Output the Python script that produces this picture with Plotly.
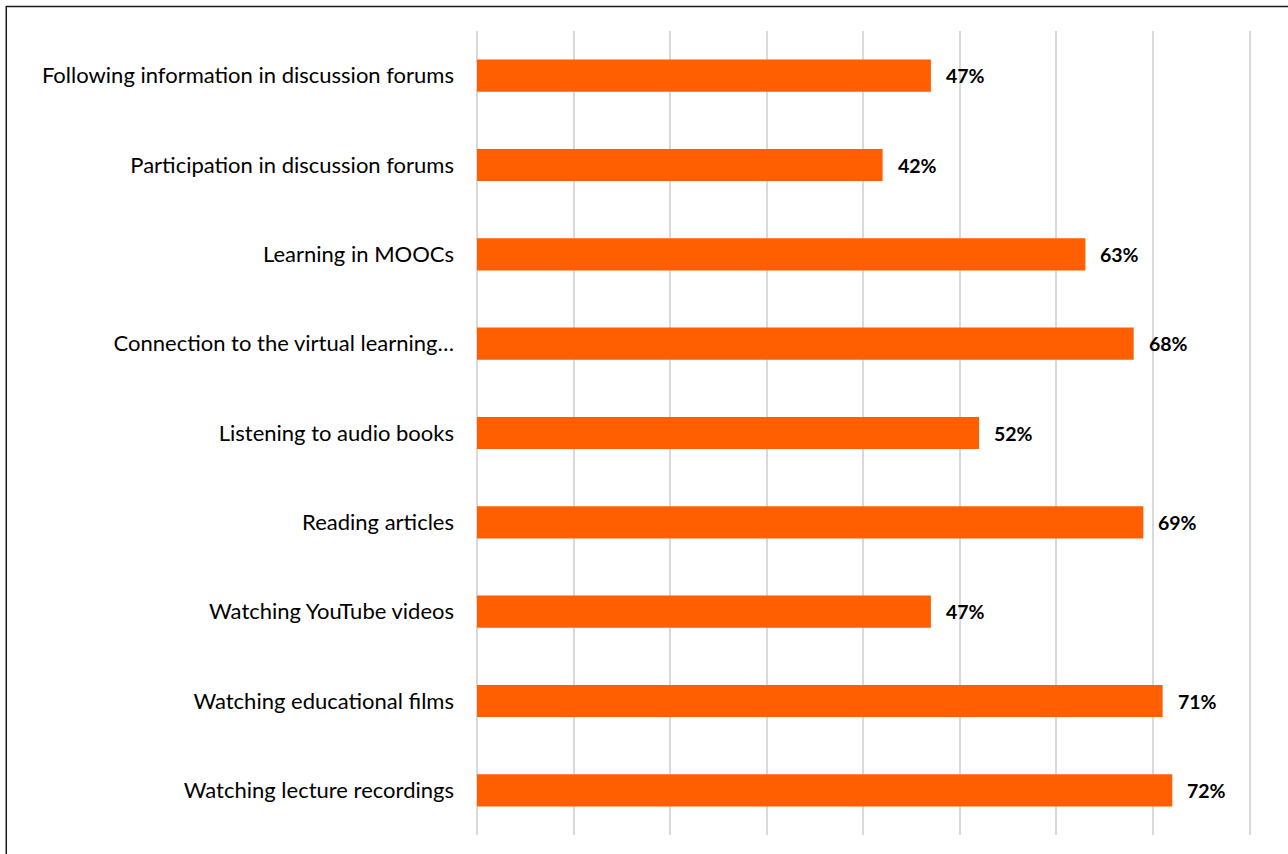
import plotly.graph_objects as go

# Share of respondents using each online learning activity (%)
categories = [
    "Following information in discussion forums",
    "Participation in discussion forums",
    "Learning in MOOCs",
    "Connection to the virtual learning…",
    "Listening to audio books",
    "Reading articles",
    "Watching YouTube videos",
    "Watching educational films",
    "Watching lecture recordings",
]
values = [47, 42, 63, 68, 52, 69, 47, 71, 72]
grid_ticks = [0, 10, 20, 30, 40, 50, 60, 70, 80]

W, H = 1288, 854
X_MAX = 80.15          # a hair past 80 so the last gridline is drawn
ML, MT, MB = 477, 31, 19
unit = 773 / 80        # pixels per percentage point
plot_w = unit * X_MAX
MR = W - ML - plot_w
plot_h = H - MT - MB

fig = go.Figure()
fig.add_trace(go.Bar(
    x=values,
    y=categories,
    orientation="h",
    marker=dict(color="#FF5F00", line=dict(width=0)),
    hoverinfo="skip",
))

# Value labels to the right of each bar
for cat, v in zip(categories, values):
    fig.add_annotation(
        x=v, y=cat, xref="x", yref="y",
        text=f"<b>{v}%</b>",
        showarrow=False, xanchor="left", xshift=13,
        font=dict(family="Lato, Arial, sans-serif", size=19.5, color="#000000"),
    )

# Chart frame (left and top edges)
px = lambda p: (p - ML) / plot_w
py = lambda p: (H - MB - p) / plot_h
fig.add_shape(
    type="rect", xref="paper", yref="paper",
    x0=px(6), x1=px(W + 40), y0=py(H + 40), y1=py(6.5),
    line=dict(color="#1a1a1a", width=1.5), fillcolor="rgba(0,0,0,0)",
)

fig.update_layout(
    width=W, height=H,
    margin=dict(l=ML, r=MR, t=MT, b=MB, pad=0),
    paper_bgcolor="white", plot_bgcolor="white",
    bargap=0.64,
    showlegend=False,
    xaxis=dict(
        range=[0, X_MAX], tickvals=grid_ticks, showticklabels=False,
        showgrid=True, gridcolor="#D9D9D9", gridwidth=1.5,
        zeroline=True, zerolinecolor="#D9D9D9", zerolinewidth=1.5,
        showline=False, fixedrange=True,
    ),
    yaxis=dict(
        autorange="reversed", showgrid=False, zeroline=False, showline=False,
        ticks="", ticklabelstandoff=22,
        tickfont=dict(family="Lato, Arial, sans-serif", size=22, color="#000000"),
        fixedrange=True,
    ),
)

fig.write_html("out.html")
